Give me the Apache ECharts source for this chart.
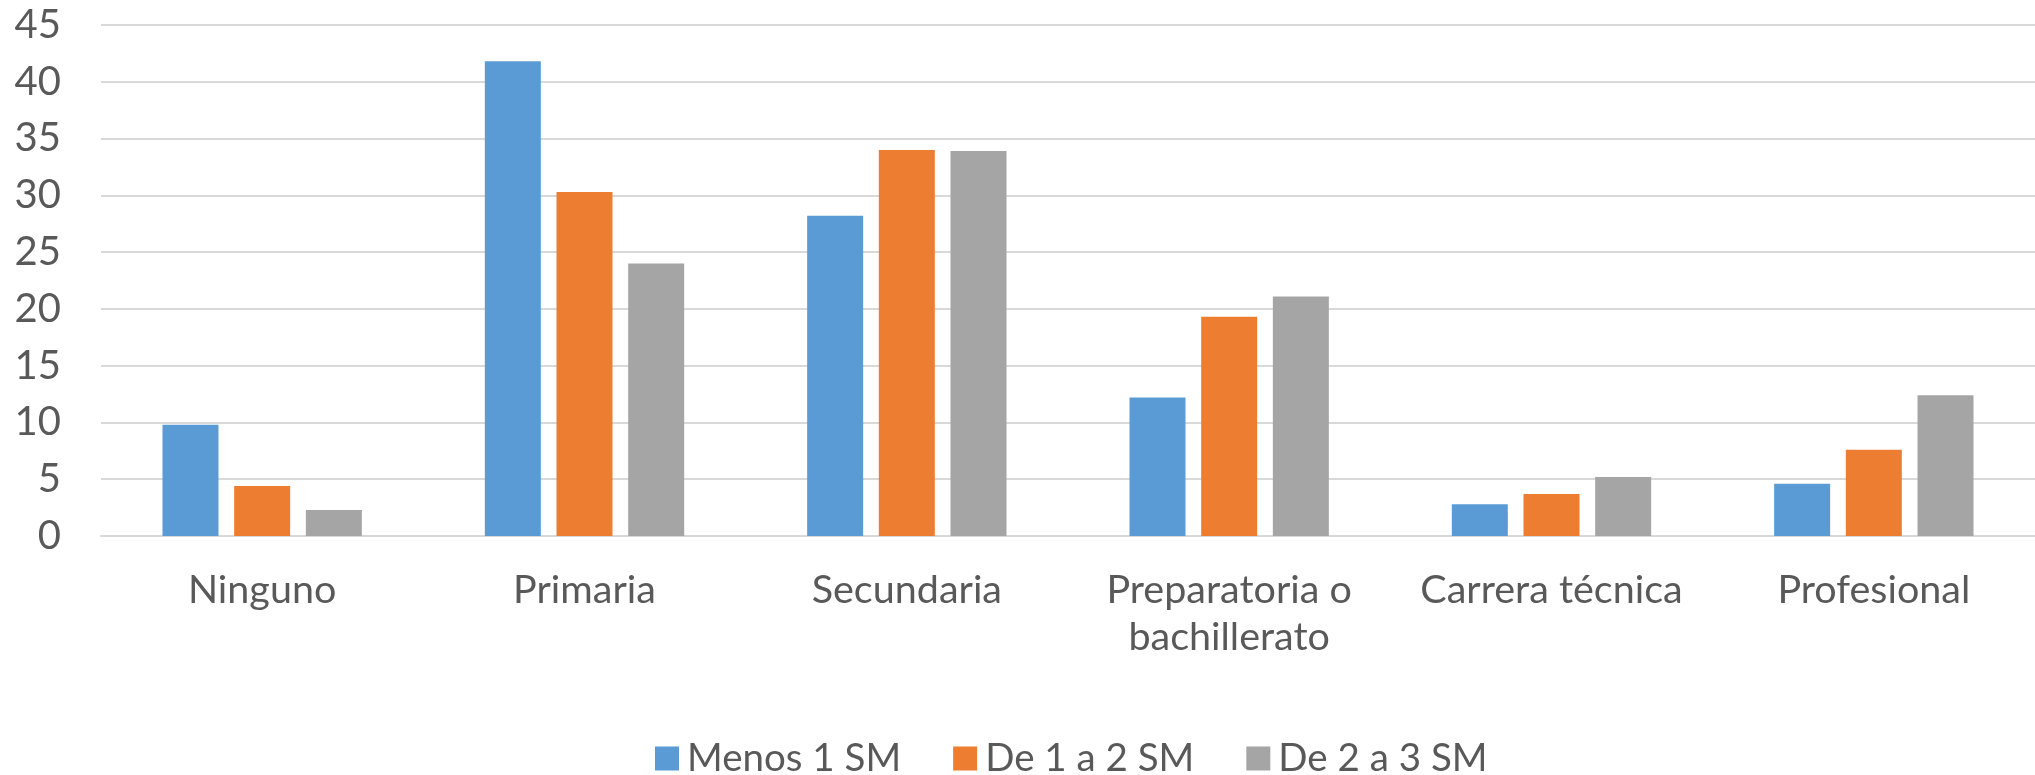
<!DOCTYPE html>
<html>
<head>
<meta charset="utf-8">
<script src="https://cdn.jsdelivr.net/npm/echarts@6/dist/echarts.min.js"></script>
<style>
html,body{margin:0;padding:0;background:#fff;}
#chart{width:2035px;height:775px;}
</style>
</head>
<body>
<div id="chart"></div>
<script>
const categories = ["Ninguno", "Primaria", "Secundaria", "Preparatoria o bachillerato", "Carrera técnica", "Profesional"];
const seriesNames = ["Menos 1 SM", "De 1 a 2 SM", "De 2 a 3 SM"];
const menos1SM = [9.8, 41.8, 28.2, 12.2, 2.8, 4.6];
const de1a2SM = [4.4, 30.3, 34.0, 19.3, 3.7, 7.6];
const de2a3SM = [2.3, 24.0, 33.9, 21.1, 5.2, 12.4];
const yTicks = [0, 5, 10, 15, 20, 25, 30, 35, 40, 45];

const colors = ["#5b9bd5", "#ed7d31", "#a5a5a5"];
const FONT = "Lato";
const chart = echarts.init(document.getElementById('chart'), null, {renderer: 'canvas'});
const dataSets = [menos1SM, de1a2SM, de2a3SM];
chart.setOption({
  animation: false,
  color: colors,
  grid: {left: 101, right: 0, top: 25, bottom: 239, containLabel: false},
  legend: {
    data: seriesNames,
    left: 650,
    top: 734,
    itemWidth: 24,
    itemHeight: 24,
    itemGap: 52,
    icon: 'rect',
    textStyle: {color: '#595959', fontFamily: FONT, fontSize: 38.5, padding: [0, 0, 0, 3]}
  },
  xAxis: {
    type: 'category',
    data: categories,
    axisTick: {show: false},
    axisLine: {lineStyle: {color: '#d9d9d9', width: 2}},
    axisLabel: {
      color: '#595959', fontFamily: FONT, fontSize: 39.5, margin: 31, lineHeight: 47,
      interval: 0,
      formatter: v => v.replace('o bachillerato', 'o\nbachillerato')
    }
  },
  yAxis: {
    type: 'value',
    min: yTicks[0],
    max: yTicks[yTicks.length - 1],
    interval: 5,
    axisLine: {show: false},
    axisTick: {show: false},
    splitLine: {lineStyle: {color: '#d9d9d9', width: 2}},
    axisLabel: {color: '#595959', fontFamily: FONT, fontSize: 40, margin: 40}
  },
  series: dataSets.map((d, i) => ({
    name: seriesNames[i],
    type: 'bar',
    data: d,
    barWidth: 56,
    barGap: '28%',
    itemStyle: {color: colors[i]}
  }))
});
</script>
</body>
</html>
